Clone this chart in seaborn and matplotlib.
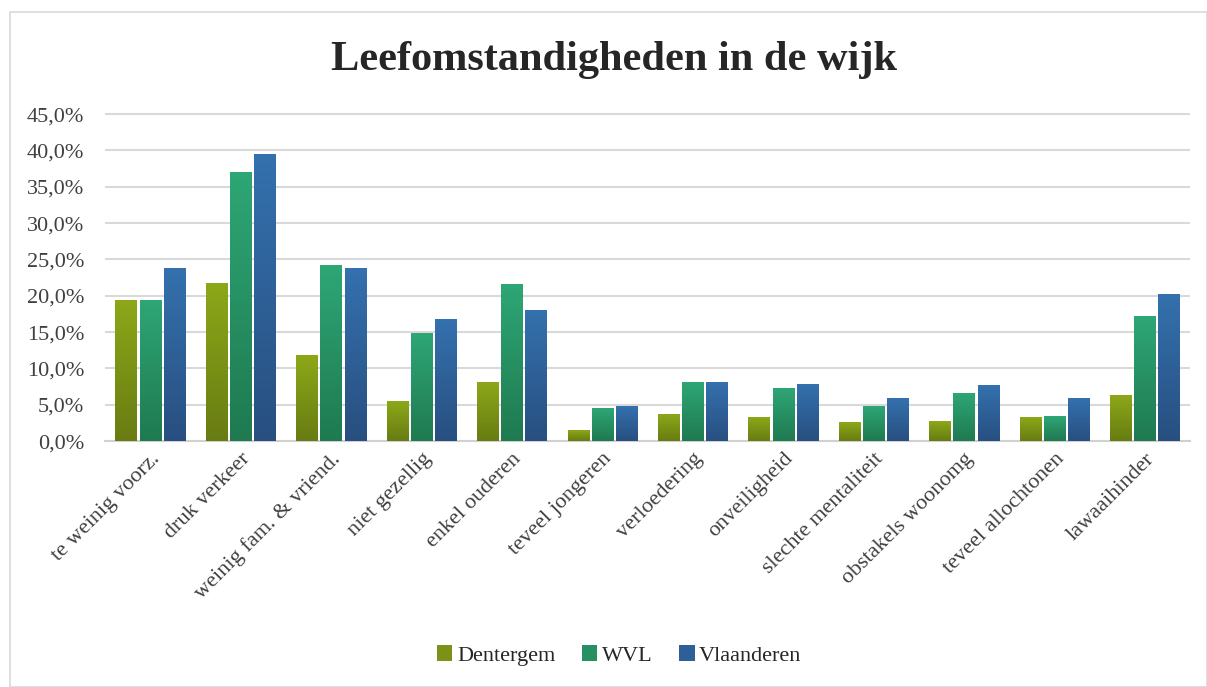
import numpy as np
import pandas as pd
import seaborn as sns
import matplotlib.pyplot as plt
from matplotlib.patches import Patch, Rectangle
from matplotlib.colors import to_rgb

categories = ['te weinig voorz.', 'druk verkeer', 'weinig fam. & vriend.', 'niet gezellig',
              'enkel ouderen', 'teveel jongeren', 'verloedering', 'onveiligheid',
              'slechte mentaliteit', 'obstakels woonomg', 'teveel allochtonen', 'lawaaihinder']
series = ['Dentergem', 'WVL', 'Vlaanderen']
dentergem = [19.3, 21.7, 11.7, 5.4, 8.0, 1.4, 3.6, 3.2, 2.6, 2.7, 3.2, 6.3]
wvl = [19.3, 36.9, 24.2, 14.8, 21.6, 4.5, 8.1, 7.2, 4.8, 6.5, 3.4, 17.2]
vlaanderen = [23.7, 39.5, 23.7, 16.7, 17.9, 4.7, 8.0, 7.8, 5.9, 7.7, 5.8, 20.2]
y_ticks = [0, 5, 10, 15, 20, 25, 30, 35, 40, 45]

top_cols = ['#8ca818', '#2ea676', '#3471ae']
bot_cols = ['#687c12', '#1f7a50', '#284f80']
mid_cols = ['#7a9215', '#279063', '#2e6097']

df = pd.DataFrame({
    'cat': categories * 3,
    'serie': [s for s in series for _ in categories],
    'val': dentergem + wvl + vlaanderen,
})

plt.rcParams['font.family'] = ['Liberation Serif', 'DejaVu Serif']
fig = plt.figure(figsize=(12.07, 6.87), dpi=100)
ax = fig.add_axes([0.087, 0.358, 0.899, 0.478])

sns.barplot(data=df, x='cat', y='val', hue='serie', palette=mid_cols,
            width=0.8, gap=0.12, legend=False, ax=ax, zorder=2)

# gradient fill on every bar
bars = [p for p in ax.patches if isinstance(p, Rectangle)]
for i, p in enumerate(bars):
    k = i // len(categories)
    t, b = np.array(to_rgb(top_cols[k])), np.array(to_rgb(bot_cols[k]))
    f = np.linspace(0, 1, 100)[:, None]
    grad = (t * (1 - f) + b * f)[:, None, :]
    x0, w, h = p.get_x(), p.get_width(), p.get_height()
    ax.imshow(grad, extent=[x0, x0 + w, 0, h], aspect='auto', origin='upper', zorder=3)

ax.set_xlim(-0.5, len(categories) - 0.5)
ax.set_ylim(0, 45.2)
ax.set_yticks(y_ticks)
ax.set_yticklabels([f'{v:.1f}%'.replace('.', ',') for v in y_ticks])
ax.grid(axis='y', color='#d9d9d9', linewidth=1.5, zorder=0)
ax.set_axisbelow(True)
for s in ['top', 'right', 'left']:
    ax.spines[s].set_visible(False)
ax.spines['bottom'].set_color('#d0d0d0')
ax.spines['bottom'].set_linewidth(1.5)
ax.tick_params(axis='both', length=0, labelsize=16, colors='#404040')
ax.tick_params(axis='y', pad=15)
ax.tick_params(axis='x', pad=6)
ax.set_xticks(range(len(categories)))
ax.set_xticklabels(categories, rotation=45, ha='right', rotation_mode='anchor')
ax.set_xlabel('')
ax.set_ylabel('')

fig.text(0.509, 0.913, 'Leefomstandigheden in de wijk', ha='center', va='center',
         fontsize=30.5, fontweight='bold', color='#262626')

handles = [Patch(facecolor=c) for c in mid_cols]
fig.legend(handles, series, loc='center', bbox_to_anchor=(0.513, 0.046), ncol=3,
           frameon=False, fontsize=16, handlelength=0.7, handleheight=0.7,
           handletextpad=0.2, columnspacing=1.2, labelcolor='#262626')

fig.patches.append(Rectangle((0.008, 0.0), 0.992, 0.982, transform=fig.transFigure,
                             fill=False, edgecolor='#d9d9d9', linewidth=1.2))

fig.savefig('out.png', dpi=100)
